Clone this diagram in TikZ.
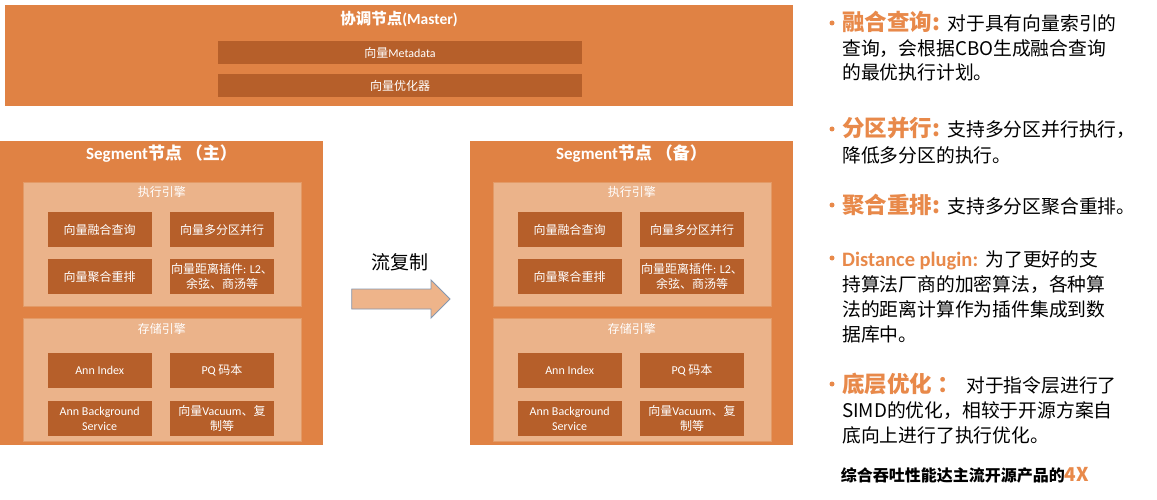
\documentclass[tikz,border=0pt]{standalone}
\usepackage{fontspec}
\setmainfont{Noto Sans CJK SC}
\newfontfamily\lat{Carlito}
\definecolor{orgA}{HTML}{E08244}
\definecolor{dark}{HTML}{B65F2A}
\definecolor{lite}{HTML}{EBB38A}
\definecolor{liteB}{HTML}{E39A66}
\definecolor{hl}{HTML}{E8894A}
\definecolor{arrF}{HTML}{EEB48A}
\definecolor{arrB}{HTML}{8497B0}
\begin{document}
\begin{tikzpicture}[x=1pt,y=-1pt,
  outerbox/.style={fill=orgA, draw=none, inner sep=0pt},
  panelbox/.style={fill=lite, draw=liteB, line width=0.6pt, inner sep=0pt, minimum width=278pt, minimum height=123pt},
  dbox/.style={fill=dark, draw=none, text=white, inner sep=0pt, minimum width=104pt, minimum height=35pt, align=center, font=\fontsize{12}{15}\selectfont},
  mbar/.style={fill=dark, draw=none, text=white, inner sep=0pt, minimum width=364pt, minimum height=23pt, font=\fontsize{12}{15}\selectfont},
  titlet/.style={text=white, inner sep=0pt, font=\fontsize{15.5}{18}\selectfont\bfseries},
  plabel/.style={text=white, inner sep=0pt, font=\fontsize{12}{15}\selectfont},
  headt/.style={anchor=base west, inner sep=0pt, text=hl, font=\fontsize{22.5}{26}\selectfont\bfseries},
  bodyt/.style={anchor=base west, inner sep=0pt, text=black, font=\fontsize{18.8}{22}\selectfont},
  bul/.style={circle, fill=hl, inner sep=0pt, minimum size=5pt}
]
\useasboundingbox (0,0) rectangle (1157,500);
\fill[white] (0,0) rectangle (1157,500);

% Master
\node[outerbox, minimum width=788pt, minimum height=101pt] (master) at (399,55.5) {};
\node[titlet] (mtitle) at (399,19) {协调节点{\lat(Master)}};
\node[mbar] (meta) at (400,53) {向量{\lat Metadata}};
\node[mbar] (opt) at (400,86) {向量优化器};

% Segment nodes
\foreach \dx/\nm/\tt in {0/L/主, 470/R/备}{
  \node[outerbox, minimum width=323pt, minimum height=304pt] (seg\nm) at ({161.5+\dx},293) {};
  \node[titlet, font=\fontsize{17}{20}\selectfont\bfseries] (segt\nm) at ({161.5+\dx},153.5) {{\lat Segment}节点 （\tt）};
  \node[panelbox] (exec\nm) at ({161.8+\dx},244.3) {};
  \node[plabel] (execl\nm) at ({161.8+\dx},192) {执行引擎};
  \node[dbox] (q\nm) at ({99.7+\dx},229.5) {向量融合查询};
  \node[dbox] (p\nm) at ({222+\dx},229.5) {向量多分区并行};
  \node[dbox] (r\nm) at ({99.7+\dx},276.5) {向量聚合重排};
  \node[dbox] (d\nm) at ({222+\dx},276.5) {向量距离插件{\lat: L2}、\\余弦、商汤等};
  \node[panelbox] (stor\nm) at ({161.8+\dx},380) {};
  \node[plabel] (storl\nm) at ({161.8+\dx},328.5) {存储引擎};
  \node[dbox] (ai\nm) at ({99.7+\dx},370.5) {{\lat Ann Index}};
  \node[dbox] (pq\nm) at ({222+\dx},370.5) {{\lat PQ} 码本};
  \node[dbox] (ab\nm) at ({99.7+\dx},418.5) {{\lat Ann Background}\\{\lat Service}};
  \node[dbox] (vc\nm) at ({222+\dx},418.5) {向量{\lat Vacuum}、复\\制等};
}

% replication arrow
\path[fill=arrF, draw=arrB, line width=0.9pt]
  (351.7,289) -- (431,289) -- (431,280) -- (450,299) -- (431,318) -- (431,309) -- (351.7,309) -- cycle;
\node[inner sep=0pt, font=\fontsize{19}{22}\selectfont] (repl) at (400,262) {流复制};

% Right text
\node[bul] (b1) at (832,23) {};
\node[headt] (h1) at (842,31) {融合查询:};
\node[bodyt] (t1a) at ([xshift=7pt]h1.base east) {对于具有向量索引的};
\node[bodyt] (t1b) at (842,56) {查询，会根据CBO生成融合查询};
\node[bodyt] (t1c) at (842,80) {的最优执行计划。};

\node[bul] (b2) at (832,129) {};
\node[headt] (h2) at (842,137) {分区并行:};
\node[bodyt] (t2a) at ([xshift=7pt]h2.base east) {支持多分区并行执行，};
\node[bodyt] (t2b) at (842,163) {降低多分区的执行。};

\node[bul] (b3) at (832,205) {};
\node[headt] (h3) at (842,213) {聚合重排:};
\node[bodyt] (t3a) at ([xshift=7pt]h3.base east) {支持多分区聚合重排。};

\node[bul] (b4) at (832,258) {};
\node[headt, font=\lat\fontsize{20.5}{26}\selectfont\bfseries] (h4) at (842,266) {Distance plugin:};
\node[bodyt] (t4a) at ([xshift=7pt]h4.base east) {为了更好的支};
\node[bodyt] (t4b) at (842,291) {持算法厂商的加密算法，各种算};
\node[bodyt] (t4c) at (842,316) {法的距离计算作为插件集成到数};
\node[bodyt] (t4d) at (842,341) {据库中。};

\node[bul] (b5) at (832,384) {};
\node[headt] (h5) at (842,392) {底层优化 ：};
\node[bodyt] (t5a) at ([xshift=6pt]h5.base east) {对于指令层进行了};
\node[bodyt] (t5b) at (842,417) {SIMD的优化，相较于开源方案自};
\node[bodyt] (t5c) at (842,442) {底向上进行了执行优化。};

\node[anchor=base, inner sep=0pt, font=\fontsize{16}{20}\selectfont\bfseries] (sum) at (965,481.5) {综合吞吐性能达主流开源产品的{\color{hl}\fontsize{19}{22}\selectfont 4X}};
\end{tikzpicture}
\end{document}
